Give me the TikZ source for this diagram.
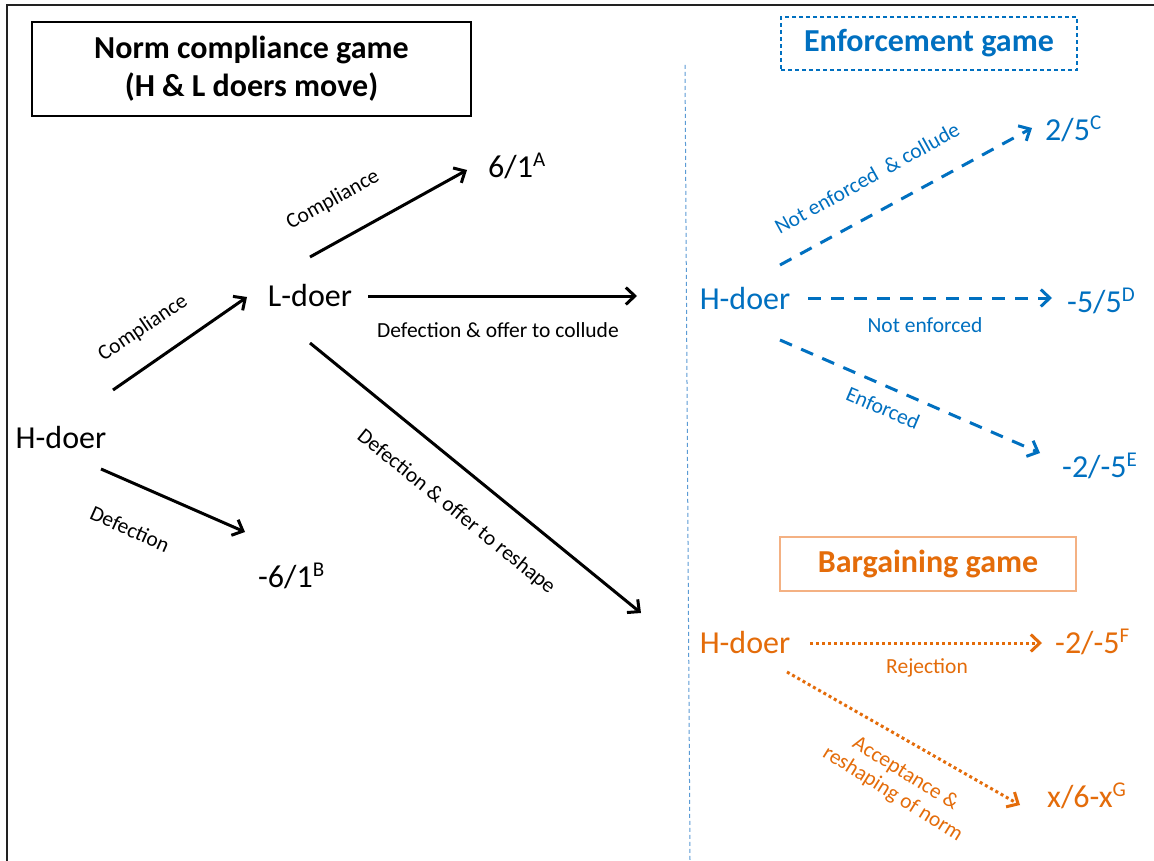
\documentclass[tikz,border=0pt]{standalone}
\usepackage{fontspec}
\setmainfont{Carlito}
\usetikzlibrary{arrows.meta}
\definecolor{eblue}{HTML}{0070C0}
\definecolor{borange}{HTML}{E46C0A}
\definecolor{lorange}{HTML}{F4B183}
\definecolor{lblue}{HTML}{5B9BD5}
\definecolor{frame}{HTML}{222222}
\newcommand{\sps}[1]{\raisebox{11pt}{\fontsize{21}{21}\selectfont #1}}
\newcommand{\bigf}{\fontsize{32}{38}\selectfont}
\newcommand{\smallf}{\fontsize{21.5}{24}\selectfont}
\begin{document}
\begin{tikzpicture}[x=1pt,y=-1pt,
  lbl/.style={font=\bigf, inner sep=0pt, anchor=base},
  pay/.style={font=\bigf, inner sep=0pt, anchor=base west},
  act/.style={font=\smallf, inner sep=0pt},
  blk/.style={line width=3pt, -{Straight Barb[length=9pt,width=17pt]}},
  blu/.style={line width=3pt, eblue, dash pattern=on 13pt off 10pt, -{Straight Barb[length=9pt,width=17pt]}},
  org/.style={line width=3pt, borange, dash pattern=on 3pt off 3pt, -{Straight Barb[length=9pt,width=17pt]}}
]
\useasboundingbox (0,0) rectangle (1154,861);
\clip (0,0) rectangle (1154,861);
\fill[white] (0,0) rectangle (1154,861);
% outer frame
\draw[frame, line width=2.5pt] (7,900) -- (7,5) -- (1200,5);
% separator
\draw[lblue, line width=1pt, dash pattern=on 4pt off 3pt] (685,65) -- (690,861);
% titles
\node[draw, line width=1.5pt, minimum width=439pt, minimum height=94pt, align=center, font=\bfseries\bigf] (title) at (251.5,69) {Norm compliance game\\(H \& L doers move)};
\node[draw=eblue, text=eblue, line width=1.2pt, dash pattern=on 4pt off 3pt, minimum width=296pt, minimum height=53pt, font=\bfseries\bigf] (etitle) at (929,43.5) {Enforcement game};
\node[draw=lorange, text=borange, line width=1.5pt, minimum width=296pt, minimum height=54pt, font=\bfseries\bigf] (btitle) at (928,564) {Bargaining game};
% players
\node[lbl] (hd) at (61,448) {H-doer};
\node[lbl] (ld) at (310,306) {L-doer};
\node[lbl, text=eblue] (eH) at (745,309) {H-doer};
\node[lbl, text=borange] (bH) at (745,653) {H-doer};
% payoffs
\node[pay] (pA) at (488,178) {6/1\sps{A}};
\node[pay] (pB) at (258,587) {-6/1\sps{B}};
\node[pay, text=eblue] (pC) at (1045,141) {2/5\sps{C}};
\node[pay, text=eblue] (pD) at (1067,312) {-5/5\sps{D}};
\node[pay, text=eblue] (pE) at (1062,477) {-2/-5\sps{E}};
\node[pay, text=borange] (pF) at (1055,653) {-2/-5\sps{F}};
\node[pay, text=borange] (pG) at (1047,807) {x/6-x\sps{G}};
% black arrows
\draw[blk] ([shift={(52,-58)}]hd.base) -- ([shift={(-63,-9)}]ld.base);
\draw[blk] ([shift={(0,-49)}]ld.base) -- ([shift={(-21,-8)}]pA.base west);
\draw[blk] ([shift={(58,-10)}]ld.base) -- ([shift={(-108,-13)}]eH.base);
\draw[blk] ([shift={(0,37)}]ld.base) -- ([shift={(-104,-40)}]bH.base);
\draw[blk] ([shift={(40,21)}]hd.base) -- ([shift={(-13,-55)}]pB.base west);
% blue arrows
\draw[blu] ([shift={(35,-44)}]eH.base) -- ([shift={(-13,-13)}]pC.base west);
\draw[blu] ([shift={(63,-11)}]eH.base) -- ([shift={(-15,-14)}]pD.base west);
\draw[blu] ([shift={(35,31)}]eH.base) -- ([shift={(-22,-24)}]pE.base west);
% orange arrows
\draw[org] ([shift={(65,-10)}]bH.base) -- ([shift={(-13,-10)}]pF.base west);
\draw[org] ([shift={(42,19)}]bH.base) -- ([shift={(-27,-2)}]pG.base west);
% action labels
\node[act, rotate=34] (l1) at (143,328) {Compliance};
\node[act, rotate=29] (l2) at (333,200) {Compliance};
\node[act] (l3) at (498,330) {Defection \& offer to collude};
\node[act, rotate=-39] (l4) at (456,512) {Defection \& offer to reshape};
\node[act, rotate=-24] (l5) at (130,529) {Defection};
\node[act, text=eblue, rotate=29] (l6) at (867,178) {Not enforced\ \ \& collude};
\node[act, text=eblue] (l7) at (925,325) {Not enforced};
\node[act, text=eblue, rotate=-23] (l8) at (883,408) {Enforced};
\node[act, text=borange] (l9) at (927,668) {Rejection};
\node[act, text=borange, rotate=-32, align=center] (l10) at (899,784) {Acceptance \&\\reshaping of norm};
\end{tikzpicture}
\end{document}
